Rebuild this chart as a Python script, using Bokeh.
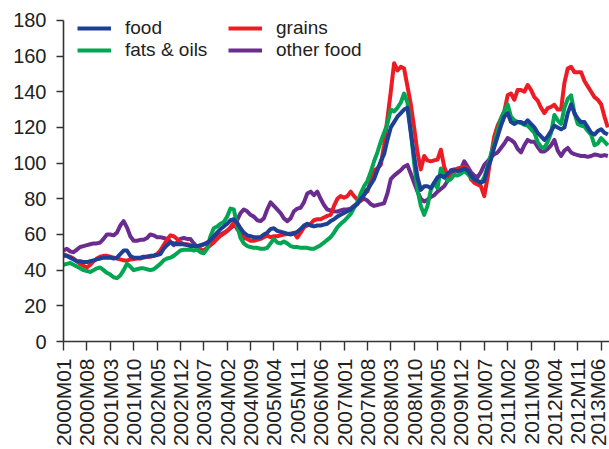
from bokeh.plotting import figure
from bokeh.models import FixedTicker, Legend, LegendItem, ColumnDataSource
from bokeh.embed import file_html
from bokeh.resources import INLINE

# ---- data (monthly indices, 2000M01 ... 2013M08) ----
start_year = 2000
n_months = 164
months = [f"{start_year + i // 12}M{i % 12 + 1:02d}" for i in range(n_months)]

food = [48, 48, 47, 46, 45, 45, 44.5, 44.5, 45, 45.5, 46, 46.5, 47, 47, 47, 46.5, 47, 49, 51, 51,
        48, 47, 47, 47, 47.5, 47.5, 48, 48, 48.5, 49, 52, 54, 55.5, 55, 54.5, 54.5, 54.5, 54, 53.5, 53.5,
        53.5, 54, 54.5, 55, 57, 59, 61, 63, 64.5, 66, 68, 68.5, 66.5, 63.5, 61, 59.5, 59, 58.5, 58.5, 58.5,
        60, 61, 63, 63.5, 62, 61.5, 61, 60.5, 60, 60.5, 61.5, 63, 65, 66, 65, 64.5, 65, 65, 65.5, 66,
        67.5, 68.5, 70, 71, 72, 73, 74, 75.5, 77, 80, 82, 85, 88, 91, 96, 101, 105, 113, 120, 123,
        126, 128, 130, 131, 117, 104, 92, 85, 87, 87, 86, 89, 92, 93, 92, 94, 95.5, 96, 95.5, 96,
        97, 96, 93, 91, 90, 89, 90, 97, 102, 109, 115, 121, 126, 128, 123, 122, 123, 123, 122, 124,
        122, 120, 117, 115, 113, 115, 118, 121, 120, 119, 120, 128, 133, 128, 125, 123, 123, 120, 117, 116,
        118, 119, 117, 116]

fats_oils = [43, 43.5, 44, 43, 42, 41, 40, 39.5, 39, 40, 41, 41.5, 40, 38.5, 37.5, 36, 35.5, 37, 40, 43.5,
             42, 40, 40.5, 41, 41, 40.5, 40, 40.5, 42, 43.5, 45.5, 46.5, 47, 48, 49.5, 51, 51.5, 51.5, 51.5, 51,
             51.5, 50, 49.5, 52, 59, 63.5, 64.5, 66, 67, 70, 74.5, 74, 65, 58, 55, 53.5, 53, 52.5, 52.5, 52,
             52, 52.5, 55, 57.5, 55.5, 55, 56, 55, 53.5, 53, 53, 52.5, 52.5, 52.5, 52, 52, 53, 54, 55.5, 57,
             58.5, 61, 64, 66, 67.5, 69.5, 71.5, 75, 78, 83, 87, 90, 95, 101, 106, 112, 117, 122, 130, 129,
             131, 134, 139, 134, 118, 100, 85, 76, 71, 76, 85, 89, 86, 97, 93, 90, 91, 93.5, 93, 94,
             95.5, 94, 92, 91, 90, 89, 92, 98, 105, 111, 118, 125, 129, 133, 126, 124, 123, 122.5, 121.5, 121,
             119, 117, 112, 109, 108.5, 112, 117, 127, 124, 122, 131, 136, 138, 128, 122, 121, 120.5, 118, 116, 110,
             111, 114, 112, 110]

grains = [49, 48, 47.5, 46.5, 45, 43.5, 42.5, 41.5, 43, 45, 46.5, 47.5, 48, 48, 47.5, 47, 46.5, 46, 45.5, 45.3,
          46, 46.3, 46.5, 46.5, 47, 47.5, 47.5, 48, 49, 51, 54, 57, 59.5, 59, 57.5, 55.5, 54.5, 54.5, 54, 53.5,
          53, 51.5, 51, 52.5, 54, 55.5, 57.5, 59.3, 60.5, 62, 64, 66.7, 63, 61, 58, 57.5, 56.5, 56.5, 57, 57.5,
          58.5, 59.3, 58.5, 59, 59, 59.5, 60, 60.2, 60.5, 61, 58.3, 61, 64, 65, 66, 68, 68.5, 68.5, 69.5, 70.4,
          71, 76, 80, 81.5, 80.6, 81.5, 84, 81.5, 79.5, 79, 85, 84, 90, 96, 97, 99, 110, 125, 140, 156,
          152, 154, 153, 143, 133, 120, 106, 96.5, 104, 101.5, 101, 101.5, 102, 107.5, 98, 93, 92, 96, 97, 97.5,
          98, 97, 91, 89, 88, 87, 81.5, 92, 104, 115, 121, 125, 129, 138, 139, 135.5, 141, 141, 140, 143.8,
          141, 137, 135, 131, 128, 130.8, 131.5, 132.7, 130, 130, 145, 153, 154, 151, 151, 151, 146, 143, 140, 137,
          135.5, 133, 126, 120]

other_food = [51, 52, 50.5, 50, 51.5, 53, 53.5, 54, 54.5, 55, 55, 55.5, 57.5, 60, 60, 59.5, 61, 65, 67.5, 64,
              59, 56.5, 56.5, 57, 57, 58, 60, 59.5, 58.5, 58.5, 58, 57.5, 56, 54, 55.5, 57.5, 58, 57.5, 57.5, 55,
              53, 53.5, 54.5, 55.5, 56.5, 57.5, 58.5, 60, 61, 62, 63.5, 65, 68, 72, 74, 73, 71, 70, 68, 67.5,
              69, 74, 78, 76, 74, 72, 69, 67.5, 69, 73, 74.5, 75, 78, 83, 84, 82, 84, 80, 76.5, 74,
              73.5, 73, 72.8, 73.5, 74, 74, 74.5, 76, 77.5, 79, 80, 79, 77, 76, 76.5, 77, 77.5, 83, 91, 93,
              94.5, 96, 98, 99, 94, 89, 84, 80, 78.5, 79.5, 81, 82, 84, 85.5, 87, 90, 96, 96.5, 96, 96.5,
              101, 98, 95, 93, 92, 95, 99, 101, 103.5, 105, 106, 108.5, 111, 114, 113, 111.5, 108, 106, 110, 113,
              112, 112, 109, 106.5, 106.5, 108, 110, 113, 107, 104, 107, 108.5, 106, 105, 104.5, 104, 104, 103.5, 104, 104.8,
              104.5, 104, 104.5, 104]

tick_labels = ["2000M01", "2000M08", "2001M03", "2001M10", "2002M05", "2002M12", "2003M07", "2004M02",
               "2004M09", "2005M04", "2005M11", "2006M06", "2007M01", "2007M08", "2008M03", "2008M10",
               "2009M05", "2009M12", "2010M07", "2011M02", "2011M09", "2012M04", "2012M11", "2013M06"]
y_ticks = [0, 20, 40, 60, 80, 100, 120, 140, 160, 180]

series_names = ["food", "fats & oils", "grains", "other food"]
series_colors = ["#1d3f94", "#00a651", "#ed1c24", "#6a2c8f"]
series_values = [food, fats_oils, grains, other_food]

# ---- figure ----
FONT = "Liberation Sans"
Y_MAX = 180
TOP_PAD_PX = 18          # extra room above the 180 tick so the legend is not clipped
FRAME_PX_180 = 323       # pixel height for 0..180
y_end = Y_MAX + TOP_PAD_PX * Y_MAX / FRAME_PX_180

p = figure(width=609, height=449, output_backend="svg", toolbar_location=None,
           x_range=(0, 163.5), y_range=(0, y_end),
           min_border_left=63, min_border_right=0, min_border_top=20 - TOP_PAD_PX,
           min_border_bottom=106)
p.outline_line_color = None
p.grid.visible = False
p.background_fill_color = "white"

x_idx = list(range(n_months))
tick_pos = [months.index(t) for t in tick_labels]

renderers = {}
for name, color, vals in zip(series_names, series_colors, series_values):
    src = ColumnDataSource(dict(x=x_idx[:len(vals)], y=vals))
    renderers[name] = p.line("x", "y", source=src, line_color=color, line_width=4,
                             line_join="round")

p.renderers = [renderers["other food"], renderers["grains"], renderers["fats & oils"], renderers["food"]]

xa = p.xaxis[0]
xa.ticker = FixedTicker(ticks=tick_pos)
xa.major_label_overrides = {pos: lab for pos, lab in zip(tick_pos, tick_labels)}
xa.major_label_orientation = 1.5708
xa.major_tick_in = 0
xa.major_tick_out = 9
xa.minor_tick_line_color = None
xa.major_label_standoff = 8

ya = p.yaxis[0]
ya.ticker = FixedTicker(ticks=y_ticks)
ya.bounds = (0, Y_MAX)
ya.major_tick_in = 0
ya.major_tick_out = 7
ya.minor_tick_line_color = None
ya.major_label_standoff = 10

for ax in (xa, ya):
    ax.axis_line_color = "#333333"
    ax.axis_line_width = 1.6
    ax.major_tick_line_color = "#333333"
    ax.major_tick_line_width = 1.4
    ax.major_label_text_font = FONT
    ax.major_label_text_font_size = "20px"
    ax.major_label_text_color = "#222222"
xa.major_label_text_font_size = "21px"

frame_h = 449 - (20 - TOP_PAD_PX) - 106
legend = Legend(items=[LegendItem(label=n, renderers=[renderers[n]]) for n in
                       ["food", "fats & oils", "grains", "other food"]],
                ncols=2, location=(14, frame_h - 61), padding=0, margin=0, spacing=0,
                label_height=22, glyph_height=22, glyph_width=34, label_standoff=14,
                label_width=103,
                label_text_font=FONT, label_text_font_size="19px", label_text_color="#222222",
                border_line_color=None, background_fill_alpha=0)
p.add_layout(legend, "center")

open("out.html", "w").write(file_html(p, INLINE))
